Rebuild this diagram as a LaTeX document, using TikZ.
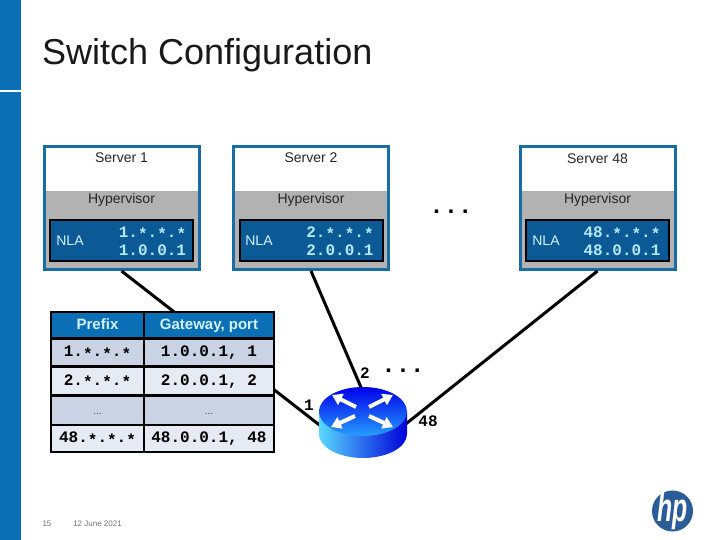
\documentclass[tikz,border=0pt]{standalone}
\usepackage{fontspec}
\usetikzlibrary{arrows.meta}
\setmainfont{Liberation Sans}
\setmonofont{Liberation Mono}
\definecolor{hpblue}{HTML}{0A6FB4}
\definecolor{srvedge}{HTML}{1A6CA5}
\definecolor{nlafill}{HTML}{0B5A96}
\definecolor{nlatext}{HTML}{B4E8FF}
\definecolor{grayhv}{HTML}{B2B2B2}
\definecolor{rowa}{HTML}{C9D3E4}
\definecolor{rowb}{HTML}{E6EBF3}
\definecolor{logoblue}{HTML}{2A5C98}
\newcommand{\sr}{\raisebox{-0.17em}{*}}
\tikzset{
  fs14/.style={font=\fontsize{14}{16}\selectfont},
  serverbox/.style={draw=srvedge,line width=3pt,fill=white,minimum width=155pt,minimum height=123pt,inner sep=0pt},
  hvband/.style={fill=grayhv,minimum width=152pt,minimum height=77pt,inner sep=0pt},
  nlabox/.style={draw=black,line width=2pt,fill=nlafill,minimum width=143pt,minimum height=41pt,inner sep=0pt},
  plain/.style={fs14,text=black!85,inner sep=0pt},
  nlalabel/.style={fs14,text=nlatext!60!white,inner sep=0pt},
  addr/.style={font=\fontsize{16}{18}\ttfamily\bfseries\selectfont,text=nlatext,align=center,inner sep=0pt},
  link/.style={draw=black,line width=3pt},
  cell/.style={draw=black,line width=2.4pt,inner sep=0pt,text height=10pt,text depth=2pt},
  cola/.style={cell,minimum width=93pt},
  colb/.style={cell,minimum width=130pt},
  head/.style={fill=hpblue,text=nlatext!60!white,font=\fontsize{15}{17}\bfseries\selectfont},
  mono/.style={font=\fontsize{16}{18}\ttfamily\bfseries\selectfont,text=black},
  small/.style={font=\fontsize{10}{12}\selectfont,text=black!70},
  portlabel/.style={font=\fontsize{16}{18}\ttfamily\bfseries\selectfont,text=black,inner sep=0pt},
  dotsmark/.style={font=\fontsize{24}{26}\ttfamily\bfseries\selectfont,text=black,inner sep=0pt},
  footer/.style={font=\fontsize{8}{10}\selectfont,text=black!55,inner sep=0pt},
  routerarrow/.style={draw=white,line width=4pt,-{Triangle[length=10pt,width=12pt]}},
}
\begin{document}
\begin{tikzpicture}[x=1pt,y=-1pt]
\useasboundingbox (0,0) rectangle (720,540);
\fill[white] (0,0) rectangle (720,540);
% sidebar
\fill[hpblue] (0,0) rectangle (21,90);
\fill[hpblue] (0,92) rectangle (21,540);
\node[anchor=west,inner sep=0pt,font=\fontsize{36}{40}\selectfont,text=black!90] (title) at (42,55) {Switch Configuration};

% router anchors
\coordinate (rL) at (322,427);
\coordinate (rT) at (363,392);
\coordinate (rR) at (402,427);

% servers
\node[serverbox] (s1) at (121.5,208) {};
\node[serverbox] (s2) at (311,208) {};
\node[serverbox] (s48) at (597.5,208) {};

% links (behind table and router)
\draw[link] (s1.south) -- (rL);
\draw[link] (s2.south) -- (rT);
\draw[link] (s48.south) -- (rR);

\foreach \n/\cx/\nx/\ax/\ta/\tb/\tt/\ty in {1/121.5/70/152.5/1.\sr.\sr.\sr/1.0.0.1/Server 1/158,2/311/259/340/2.\sr.\sr.\sr/2.0.0.1/Server 2/158,48/597.5/546/622/48.\sr.\sr.\sr/48.0.0.1/Server 48/159}{
  \node[hvband] (hv\n) at (\cx,229.5) {};
  \node[plain] (hvt\n) at (\cx,200) {Hypervisor};
  \node[plain] (st\n) at (\cx,\ty) {\tt};
  \node[nlabox] (nb\n) at (\cx,240.5) {};
  \node[nlalabel] (nl\n) at (\nx,241) {NLA};
  \node[addr] (a\n) at (\ax,241) {\ta\\\tb};
}

% table
\node[cola,head,minimum height=26.5pt] (t00) at (97.5,325.25) {Prefix};
\node[colb,head,minimum height=26.5pt] (t01) at (209,325.25) {Gateway, port};
\node[cola,fill=rowa,mono,minimum height=28pt] (t10) at (97.5,352.5) {1.\sr.\sr.\sr};
\node[colb,fill=rowa,mono,minimum height=28pt] (t11) at (209,352.5) {1.0.0.1, 1};
\node[cola,fill=rowb,mono,minimum height=29pt] (t20) at (97.5,381) {2.\sr.\sr.\sr};
\node[colb,fill=rowb,mono,minimum height=29pt] (t21) at (209,381) {2.0.0.1, 2};
\node[cola,fill=rowa,small,minimum height=29.5pt] (t30) at (97.5,410.25) {...};
\node[colb,fill=rowa,small,minimum height=29.5pt] (t31) at (209,410.25) {...};
\node[cola,fill=rowb,mono,minimum height=27pt] (t40) at (97.5,438.5) {48.\sr.\sr.\sr};
\node[colb,fill=rowb,mono,minimum height=27pt] (t41) at (209,438.5) {48.0.0.1, 48};

% router
\shade[left color=cyan!60!white!85!blue,right color=blue!85!black]
  (319,411.5) -- (319,434) arc[start angle=180,end angle=360,x radius=44pt,y radius=24pt] -- (407,411.5) -- cycle;
\shade[top color=blue!92!black,bottom color=blue!45!cyan!85!white,shading angle=0]
  (363,411.5) ellipse[x radius=44pt,y radius=24.5pt];
\draw[routerarrow] (356,407) -- (332,395);
\draw[routerarrow] (369,407) -- (393,395);
\draw[routerarrow] (355,416) -- (331,427);
\draw[routerarrow] (369,416) -- (393,427);

% port labels and dots
\node[portlabel] (p2) at (365,373) {2};
\node[portlabel] (p1) at (309,405) {1};
\node[portlabel] (p48) at (428,421) {48};
\node[dotsmark] (d1) at (451,212) {...};
\node[dotsmark] (d2) at (403,371) {...};

% footer
\node[footer] (pg) at (47,524) {15};
\node[footer] (date) at (97.5,524) {12 June 2021};

% logo
\node[circle,fill=logoblue,minimum size=41pt,inner sep=0pt] (logo) at (672.5,511) {};
\node[text=white,inner sep=0pt,font=\fontsize{40}{42}\bfseries\itshape\selectfont,xscale=0.62,transform shape] (hp) at (672.5,511) {hp};
\end{tikzpicture}
\end{document}
